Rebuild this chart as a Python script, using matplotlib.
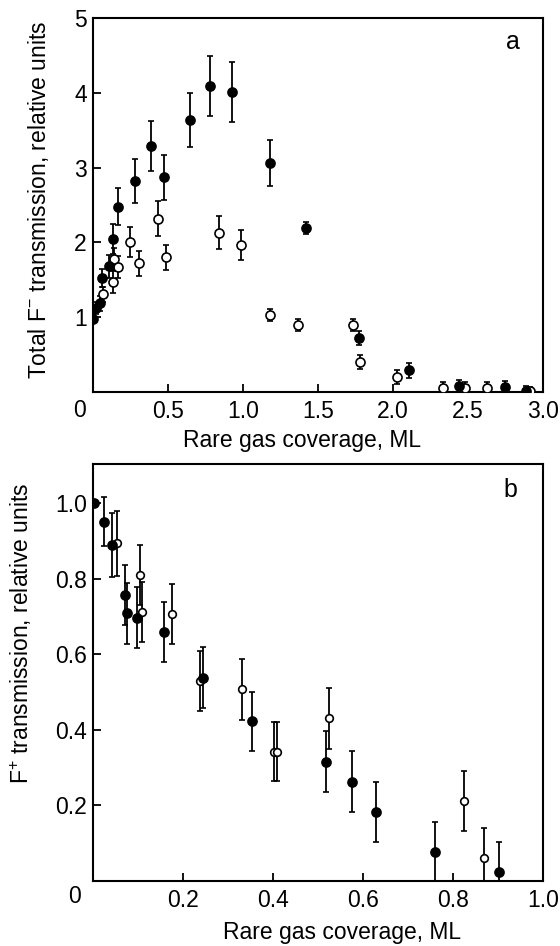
"""Rare gas coverage dependence of F- and F+ transmission (two panels)."""

import matplotlib

matplotlib.use("Agg")
import matplotlib.pyplot as plt

plt.rcParams["font.family"] = ["Liberation Sans", "DejaVu Sans"]
plt.rcParams["mathtext.fontset"] = "custom"
plt.rcParams["mathtext.rm"] = "Liberation Sans"
plt.rcParams["mathtext.it"] = "Liberation Sans"

FS = 16.5

# ---- panel a: total F- transmission ----
a_full_x = [0.0, 0.02, 0.05, 0.06, 0.11, 0.135, 0.17, 0.28, 0.39, 0.475,
            0.65, 0.78, 0.93, 1.18, 1.42, 1.775, 2.11, 2.44, 2.745, 2.89]
a_full_y = [0.98, 1.12, 1.19, 1.53, 1.68, 2.04, 2.48, 2.82, 3.29, 2.87,
            3.64, 4.09, 4.01, 3.06, 2.19, 0.72, 0.29, 0.08, 0.07, 0.02]
a_full_err = [0.06, 0.08, 0.1, 0.12, 0.15, 0.2, 0.25, 0.29, 0.33, 0.3,
              0.36, 0.4, 0.4, 0.31, 0.08, 0.09, 0.1, 0.08, 0.08, 0.06]

a_open_x = [0.07, 0.133, 0.14, 0.167, 0.25, 0.31, 0.435, 0.487, 0.84, 0.99,
            1.18, 1.37, 1.733, 1.78, 2.03, 2.335, 2.48, 2.63, 2.915]
a_open_y = [1.31, 1.47, 1.78, 1.67, 2.0, 1.72, 2.32, 1.8, 2.13, 1.96,
            1.03, 0.89, 0.89, 0.4, 0.2, 0.06, 0.06, 0.06, 0.01]
a_open_err = [0.1, 0.15, 0.15, 0.15, 0.2, 0.17, 0.24, 0.17, 0.22, 0.2,
              0.08, 0.08, 0.08, 0.09, 0.09, 0.08, 0.08, 0.08, 0.06]

# ---- panel b: F+ transmission ----
b_full_x = [0.003, 0.024, 0.043, 0.071, 0.076, 0.098, 0.158, 0.245, 0.354,
            0.517, 0.576, 0.629, 0.76, 0.903]
b_full_y = [1.0, 0.95, 0.888, 0.757, 0.708, 0.697, 0.658, 0.538, 0.422,
            0.316, 0.263, 0.182, 0.076, 0.023]
b_full_err = [0.0, 0.065, 0.085, 0.08, 0.08, 0.08, 0.08, 0.08, 0.078,
              0.08, 0.08, 0.08, 0.08, 0.08]

b_open_x = [0.053, 0.104, 0.11, 0.176, 0.237, 0.332, 0.402, 0.41, 0.524,
            0.824, 0.869]
b_open_y = [0.893, 0.81, 0.711, 0.706, 0.529, 0.507, 0.342, 0.342, 0.43,
            0.212, 0.06]
b_open_err = [0.085, 0.08, 0.08, 0.08, 0.08, 0.08, 0.078, 0.078, 0.08,
              0.08, 0.08]


def _errpts(ax, x, y, err, filled, ms):
    ax.errorbar(
        x, y, yerr=err, fmt="o", ms=ms,
        mfc="black" if filled else "white", mec="black", mew=1.2,
        ecolor="black", elinewidth=1.3, capsize=2.5, capthick=1.2,
        clip_on=True, zorder=3,
    )


def _style(ax):
    for side in ax.spines.values():
        side.set_linewidth(1.5)
    ax.tick_params(direction="in", length=6, width=1.3, labelsize=FS,
                   top=False, right=False)
    ax.tick_params(axis="x", pad=6)
    ax.tick_params(axis="y", pad=4.5)


fig = plt.figure(figsize=(5.6, 9.46), dpi=100)
ax_a = fig.add_axes([0.166, 0.5856, 0.8036, 0.3953])
ax_b = fig.add_axes([0.166, 0.0687, 0.8036, 0.4408])

_errpts(ax_a, a_open_x, a_open_y, a_open_err, False, 6.5)
_errpts(ax_a, a_full_x, a_full_y, a_full_err, True, 6.5)
ax_a.set_xlim(0, 3.0)
ax_a.set_ylim(0, 5)
ax_a.set_xticks([0.5, 1.0, 1.5, 2.0, 2.5, 3.0])
ax_a.set_xticklabels(["0.5", "1.0", "1.5", "2.0", "2.5", "3.0"])
ax_a.set_yticks([1, 2, 3, 4, 5])
_style(ax_a)
ax_a.text(-0.029, -0.05, "0", transform=ax_a.transAxes, ha="center",
          va="center", fontsize=FS)
ax_a.text(0.933, 0.936, "a", transform=ax_a.transAxes, ha="center",
          va="center", fontsize=18)
ax_a.set_xlabel("Rare gas coverage, ML", fontsize=FS)
ax_a.xaxis.set_label_coords(0.465, -0.099)
ax_a.set_ylabel("Total F$^{-}$ transmission, relative units", fontsize=FS)
ax_a.yaxis.set_label_coords(-0.093, 0.513)

_errpts(ax_b, b_open_x, b_open_y, b_open_err, False, 5.5)
_errpts(ax_b, b_full_x, b_full_y, b_full_err, True, 6.5)
ax_b.set_xlim(0, 1.0)
ax_b.set_ylim(0, 1.103)
ax_b.set_xticks([0.2, 0.4, 0.6, 0.8, 1.0])
ax_b.set_xticklabels(["0.2", "0.4", "0.6", "0.8", "1.0"])
ax_b.set_yticks([0.2, 0.4, 0.6, 0.8, 1.0])
ax_b.set_yticklabels(["0.2", "0.4", "0.6", "0.8", "1.0"])
_style(ax_b)
ax_b.text(-0.04, -0.038, "0", transform=ax_b.transAxes, ha="center",
          va="center", fontsize=FS)
ax_b.text(0.927, 0.938, "b", transform=ax_b.transAxes, ha="center",
          va="center", fontsize=18)
ax_b.set_xlabel("Rare gas coverage, ML", fontsize=FS)
ax_b.xaxis.set_label_coords(0.553, -0.096)
ax_b.set_ylabel("F$^{+}$ transmission, relative units", fontsize=FS)
ax_b.yaxis.set_label_coords(-0.131, 0.595)

fig.savefig("out.png", dpi=100)
